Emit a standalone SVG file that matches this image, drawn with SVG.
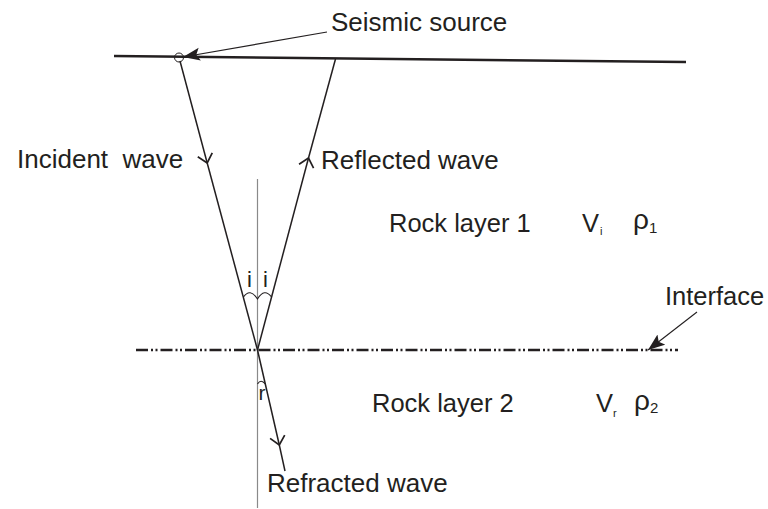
<svg xmlns="http://www.w3.org/2000/svg" width="768" height="509" viewBox="0 0 768 509">
<style>
text{font-family:"Liberation Sans",Arial,sans-serif;fill:#231f20}
.lbl{font-size:26px}
.lay{font-size:25.5px}
.rho{font-size:28px}
.ray{stroke:#231f20;stroke-width:1.5;fill:none}
.thin{stroke:#231f20;stroke-width:1.1;fill:none}
</style>
<defs>
<marker id="vhead" markerUnits="userSpaceOnUse" markerWidth="14" markerHeight="20" refX="11" refY="9" orient="auto" viewBox="0 0 14 20">
<path d="M2.5,1.5 L11,9 L2.5,16.5" fill="none" stroke="#231f20" stroke-width="1.7"/>
</marker>
<marker id="fhead" markerUnits="userSpaceOnUse" markerWidth="18" markerHeight="14" refX="17" refY="6.5" orient="auto" viewBox="0 0 18 14">
<path d="M0,0 L17,6.5 L0,13 L3.5,6.5 z" fill="#231f20"/>
</marker>
</defs>
<rect width="768" height="509" fill="#fff"/>
<g id="surface">
<path d="M114,56 L686,62" stroke="#231f20" stroke-width="2.5" fill="none"/>
<circle cx="179" cy="57.5" r="4.5" fill="none" stroke="#231f20" stroke-width="1"/>
</g>
<g id="interface">
<path d="M136,350 L678,350" stroke="#231f20" stroke-width="2.6" fill="none" stroke-dasharray="12 3 2 2.5 2 3"/>
</g>
<g id="normal">
<path d="M257.5,179 L257.5,508" stroke="#8a8a8a" stroke-width="1.2" fill="none"/>
</g>
<g id="connectors">
<path class="ray" d="M180,61 L207.2,163" marker-end="url(#vhead)"/>
<path class="ray" d="M207.2,163 L257.5,350"/>
<path class="ray" d="M257.5,350 L308.5,158" marker-end="url(#vhead)"/>
<path class="ray" d="M308.5,158 L335.5,59"/>
<path class="ray" d="M257.5,350 L279.3,445" marker-end="url(#vhead)"/>
<path class="ray" d="M279.3,445 L285,471"/>
<path class="thin" d="M327,32 L183,57" marker-end="url(#fhead)"/>
<path class="thin" d="M697,312 L648,350" marker-end="url(#fhead)"/>
</g>
<g id="angles">
<path class="thin" d="M243.5,297 Q250,287.5 257.5,299 Q264.5,287.5 271.5,297"/>
<path class="thin" d="M257.5,384 Q261,378.5 265.3,384"/>
<text x="249.5" y="287" font-size="22" text-anchor="middle">i</text>
<text x="265.5" y="287" font-size="22" text-anchor="middle">i</text>
<text x="258.5" y="400" font-size="21">r</text>
</g>
<g id="seismic-source"><text class="lbl" x="331" y="31">Seismic source</text></g>
<g id="incident-wave"><text class="lbl" x="17" y="168" xml:space="preserve">Incident  wave</text></g>
<g id="reflected-wave"><text class="lbl" x="321" y="169">Reflected wave</text></g>
<g id="refracted-wave"><text class="lbl" x="267" y="492">Refracted wave</text></g>
<g id="interface-label"><text class="lay" x="665" y="305">Interface</text></g>
<g id="rock-layer-1">
<text class="lay" x="389" y="232">Rock layer 1</text>
<text class="lay" x="582" y="232">V</text>
<text x="600" y="235" font-size="11">i</text>
<text class="rho" x="633" y="229">ρ</text>
<text x="649" y="233" font-size="15">1</text>
</g>
<g id="rock-layer-2">
<text class="lay" x="372" y="412">Rock layer 2</text>
<text class="lay" x="596" y="412">V</text>
<text x="613" y="417" font-size="11">r</text>
<text class="rho" x="634" y="410">ρ</text>
<text x="650" y="413" font-size="15">2</text>
</g>
</svg>
